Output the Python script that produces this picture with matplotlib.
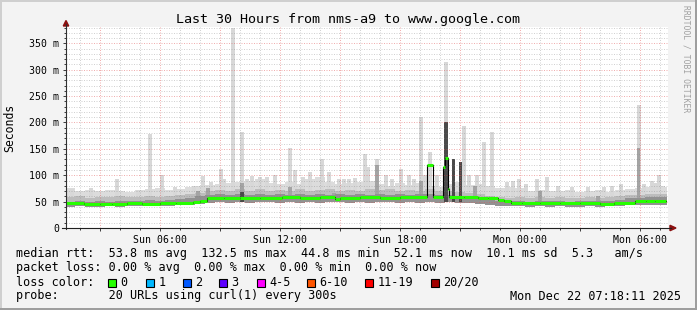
import numpy as np
import matplotlib
matplotlib.use("Agg")
import matplotlib.pyplot as plt
from matplotlib.patches import Polygon, Rectangle

W, H = 697, 310

# time in hours since Sun 00:00, graph window Sun 01:18:11 .. Mon 07:18:11
t_start = 1.303
t_now = 31.303

# smoke envelope, one value per half hour (t = 1.0 .. 31.5)
smoke_t = np.arange(1.0, 31.51, 0.5)
low_ms = [41, 40, 41, 40, 40, 41, 40, 41, 41, 42, 41, 42, 43, 44, 46,
          48, 49, 48, 49, 48, 49, 49, 48, 49, 48, 49, 48, 49, 49, 48, 49, 48, 49, 49, 48, 49, 48, 49, 48, 49, 48, 47, 46,
          44, 42, 41, 41, 40, 41, 40, 41, 40, 40, 41, 40, 41, 42, 43, 43, 44, 44, 44]
dark_ms = [51, 50, 51, 50, 52, 50, 51, 51, 52, 53, 52, 53, 55, 57, 61,
           63, 64, 62, 65, 63, 64, 62, 64, 63, 65, 63, 64, 62, 64, 63, 65, 63, 64, 62, 64, 63, 65, 64, 63, 62, 61, 58, 55,
           53, 52, 51, 52, 50, 52, 51, 52, 50, 51, 52, 51, 52, 54, 56, 57, 58, 58, 58]
mid_ms = [58, 58, 60, 57, 59, 58, 60, 58, 59, 60, 58, 60, 62, 64, 66,
          70, 72, 70, 73, 71, 74, 70, 72, 71, 73, 70, 72, 74, 71, 72, 70, 73, 72, 74, 71, 72, 70, 73, 71, 70, 68, 66, 64,
          60, 58, 57, 58, 56, 58, 57, 58, 56, 57, 58, 56, 58, 60, 62, 63, 64, 64, 64]
top_ms = [84, 76, 70, 72, 70, 72, 70, 69, 72, 74, 76, 72, 74, 78, 80,
          82, 84, 86, 88, 90, 92, 86, 84, 88, 84, 92, 96, 88, 84, 86, 88, 90, 84, 80, 86, 82, 86, 80, 78, 84, 88, 82, 84,
          80, 76, 78, 76, 70, 72, 70, 70, 72, 68, 70, 72, 68, 72, 74, 76, 78, 80, 78]

# narrow outlier spikes of the smoke
spike_t = [3.85, 5.48, 6.10, 8.15, 9.03, 9.63, 10.10, 10.60, 11.00, 12.50,
           12.75, 13.50, 14.10, 14.45, 14.95, 15.43, 16.23, 16.40, 16.85, 18.03,
           18.45, 18.70, 19.03, 19.50, 19.83, 20.30, 21.18, 21.83, 22.20, 22.60,
           23.63, 23.93, 24.85, 25.35, 29.05, 29.93, 30.58, 30.95]
spike_ms = [93, 179, 100, 98, 111, 380, 182, 98, 96, 151,
            110, 107, 130, 106, 93, 93, 140, 116, 130, 112,
            100, 93, 210, 145, 100, 315, 194, 100, 163, 182,
            90, 92, 93, 96, 84, 233, 90, 100]
# smaller bumps on top of the smoke
bump_t = [1.6, 2.55, 4.9, 6.75, 7.7, 8.55, 9.2, 10.35, 11.35, 11.75, 13.15, 15.2, 15.75,
          17.3, 17.6, 19.25, 21.45, 23.35, 24.3, 25.9, 26.6, 27.4, 28.2, 28.6, 30.2, 30.75]
bump_ms = [74, 75, 72, 78, 80, 88, 92, 92, 96, 100, 96, 92, 94,
           100, 93, 100, 100, 88, 84, 80, 78, 78, 78, 80, 84, 86]
mid_spike_t = [7.9, 8.4, 10.10, 12.5, 14.7, 16.85, 19.05, 21.75, 25.0, 27.9, 29.93]
mid_spike_ms = [70, 75, 85, 78, 66, 119, 90, 80, 70, 60, 151]
dark_spike_t = [10.10, 20.30, 20.68, 21.03]
dark_spike_ms = [68, 201, 131, 125]

# median rtt, step changes (hour, ms)
med_t = [1.30, 2.2, 3.0, 3.6, 4.35, 5.1, 6.0, 6.8, 7.65, 8.0, 8.35, 9.2, 10.0, 11.0, 12.1,
         13.0, 14.0, 14.75, 15.0, 16.0, 17.0, 18.0, 19.35, 19.65, 20.15, 20.25, 20.4, 20.45,
         21.2, 21.9, 22.4, 22.9, 23.2, 23.55, 24.1, 25.0, 26.0, 27.0, 28.0, 28.7, 29.75, 30.3, 30.75]
med_ms = [46.5, 46.0, 45.7, 45.5, 46.5, 46.0, 47.0, 47.5, 49.5, 52.0, 57.0, 56.5, 57.5, 57.0, 58.0,
          57.5, 58.0, 55.0, 57.5, 58.0, 57.5, 58.0, 119.0, 58.0, 116.0, 132.0, 74.0, 58.5,
          58.0, 57.3, 56.0, 54.0, 51.0, 48.0, 47.0, 46.5, 47.0, 46.5, 45.5, 47.0, 50.5, 51.0, 52.0]

xtick_t = [6, 12, 18, 24, 30]
xtick_labels = ["Sun 06:00", "Sun 12:00", "Sun 18:00", "Mon 00:00", "Mon 06:00"]

loss_labels = ["0", "1", "2", "3", "4-5", "6-10", "11-19", "20/20"]
loss_colors = ["#26ff00", "#00b8ff", "#0059ff", "#5e00ff", "#ff00ff", "#ff5500", "#ff0000", "#a10000"]
loss_box_x = [108, 146, 183, 219, 257, 307, 365, 431]

mono = "DejaVu Sans Mono"

fig = plt.figure(figsize=(W / 100, H / 100), dpi=100, facecolor="#f3f3f3")


def fx(px):
    return px / W


def fy(py):
    return 1 - py / H


ax = fig.add_axes([fx(66), fy(228), (668 - 66) / W, (228 - 27) / H])
ax.set_facecolor("white")
ax.set_xlim(t_start, t_start + (668 - 66) / 20)
ax.set_ylim(0, 381)
for s in ax.spines.values():
    s.set_visible(False)

# smoke, clipped at "now"
clip = Rectangle((t_start, 0), t_now - t_start, 400, transform=ax.transData)
smoke = [
    ax.fill_between(smoke_t, low_ms, top_ms, step="mid", color="#dcdcdc", lw=0, zorder=1),
    ax.fill_between(smoke_t, low_ms, mid_ms, step="mid", color="#bdbdbd", lw=0, zorder=1.2),
    ax.fill_between(smoke_t, low_ms, dark_ms, step="mid", color="#929292", lw=0, zorder=1.4),
]
for art in smoke:
    art.set_clip_path(clip)
ax.bar(spike_t, np.array(spike_ms) - 50, bottom=50, width=0.2, color="#d8d8d8", lw=0, zorder=1)
ax.bar(bump_t, np.array(bump_ms) - 50, bottom=50, width=0.2, color="#d8d8d8", lw=0, zorder=1)
ax.bar(mid_spike_t, np.array(mid_spike_ms) - 50, bottom=50, width=0.17, color="#a4a4a4", lw=0, zorder=1.3)
ax.bar(dark_spike_t, np.array(dark_spike_ms) - 50, bottom=50, width=0.17, color="#4a4a4a", lw=0, zorder=1.5)

# grid on top of the smoke, semi transparent like rrdtool
ax.set_xticks(np.arange(3, 32, 3))
ax.set_xticks(np.arange(2, 32, 1), minor=True)
ax.set_yticks(np.arange(0, 381, 50))
ax.set_yticks(np.arange(0, 381, 10), minor=True)
ax.grid(which="minor", color="#808080", alpha=0.35, lw=0.72, linestyle=(0, (1, 1.5)))
ax.grid(which="major", color="#e05050", alpha=0.45, lw=0.72, linestyle=(0, (1, 1.5)))
for gl in ax.get_xgridlines() + ax.get_ygridlines():
    gl.set_zorder(2)
for tk in ax.xaxis.get_minor_ticks() + ax.yaxis.get_minor_ticks():
    tk.gridline.set_zorder(2)

# median line: thin black steps, green levels
med_end = med_t[1:] + [t_now]
ax.step(med_t + [t_now], med_ms + [med_ms[-1]], where="post", color="black", lw=0.8, zorder=3)
ax.hlines(med_ms, med_t, med_end, color=loss_colors[0], lw=2.2, zorder=4)

# ticks and labels
xlab = dict(zip(xtick_t, xtick_labels))
ax.set_xticklabels([xlab.get(int(v), "") for v in np.arange(3, 32, 3)], fontfamily=mono, fontsize=7.1)
ax.set_yticklabels(["0"] + ["%d m" % v for v in np.arange(50, 381, 50)], fontfamily=mono, fontsize=7.1)
ax.tick_params(axis="both", which="major", length=2.5, width=0.72, color="#404040", pad=2.2)
ax.tick_params(axis="both", which="minor", length=1.5, width=0.72, color="#404040")

# axis lines and arrows
fig.add_artist(plt.Line2D([fx(66), fx(66)], [fy(228.5), fy(24)], color="#303030", lw=0.8))
fig.add_artist(plt.Line2D([fx(62), fx(671)], [fy(228), fy(228)], color="#202020", lw=0.8))
fig.add_artist(Polygon([[fx(66), fy(20.5)], [fx(63.3), fy(26)], [fx(68.7), fy(26)]],
                       closed=True, color="#8b1010", transform=fig.transFigure))
fig.add_artist(Polygon([[fx(676), fy(228)], [fx(670), fy(225.3)], [fx(670), fy(230.7)]],
                       closed=True, color="#8b1010", transform=fig.transFigure))

fig.text(0.5, fy(19), "Last 30 Hours from nms-a9 to www.google.com", ha="center", va="center",
         fontfamily=mono, fontsize=9.6)
fig.text(fx(10), fy(128), "Seconds", rotation=90, ha="center", va="center", fontfamily=mono, fontsize=8.3)
fig.text(fx(686), fy(5), "RRDTOOL / TOBI OETIKER", rotation=270, ha="center", va="top",
         fontfamily=mono, fontsize=5.8, color="#a0a0a0")

# legend
lines = [
    "median rtt:  53.8 ms avg  132.5 ms max  44.8 ms min  52.1 ms now  10.1 ms sd  5.3   am/s",
    "packet loss: 0.00 % avg  0.00 % max  0.00 % min  0.00 % now",
    "loss color:",
    "probe:       20 URLs using curl(1) every 300s",
]
for i, txt in enumerate(lines):
    fig.text(fx(16), fy(254 + 14 * i), txt, ha="left", va="center", fontfamily=mono, fontsize=8.5)
for bx, lab, col in zip(loss_box_x, loss_labels, loss_colors):
    fig.add_artist(Rectangle((fx(bx), fy(286.5)), 8 / W, 8 / H, facecolor=col, edgecolor="black",
                             lw=0.8, transform=fig.transFigure))
    fig.text(fx(bx + 12.5), fy(282), lab, ha="left", va="center", fontfamily=mono, fontsize=8.5)
fig.text(fx(681), fy(296), "Mon Dec 22 07:18:11 2025", ha="right", va="center", fontfamily=mono, fontsize=8.5)

# 3d frame of the canvas
fig.add_artist(Rectangle((0, fy(2)), 1, 2 / H, color="#cfcfcf", transform=fig.transFigure, lw=0))
fig.add_artist(Rectangle((0, 0), 2 / W, 1, color="#cfcfcf", transform=fig.transFigure, lw=0))
fig.add_artist(Rectangle((0, 0), 1, 2 / H, color="#9e9e9e", transform=fig.transFigure, lw=0))
fig.add_artist(Rectangle((fx(695), 0), 2 / W, 1, color="#9e9e9e", transform=fig.transFigure, lw=0))

fig.savefig("out.png", dpi=100, facecolor=fig.get_facecolor())
